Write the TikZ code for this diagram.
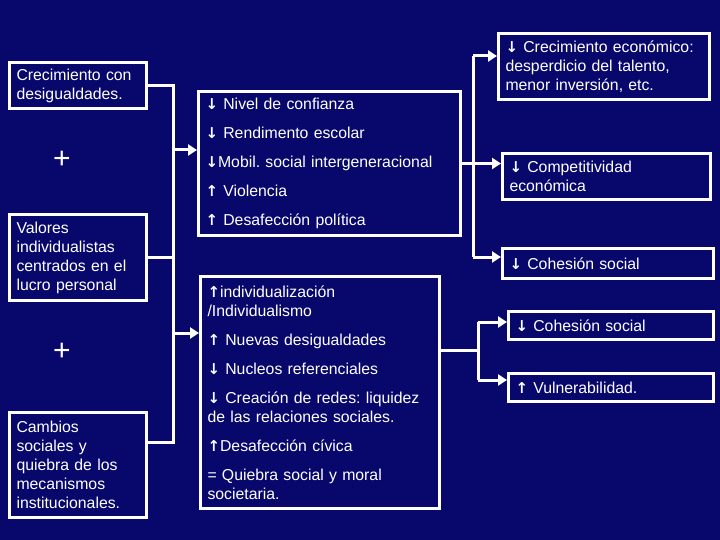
\documentclass[tikz,border=0pt]{standalone}
\usepackage{fontspec}
\setmainfont{Liberation Sans}
\newfontfamily\arrowfont{DejaVu Sans Bold}
\usepackage{tikz}
\usetikzlibrary{arrows.meta,calc}
\usepackage{xcolor}
\definecolor{navy}{RGB}{8,8,108}
\newcommand\dn{{\arrowfont\fontsize{15}{19}\selectfont ↓}}
\newcommand\up{{\arrowfont\fontsize{15}{19}\selectfont ↑}}
\frenchspacing

\begin{document}
\begin{tikzpicture}[x=1pt,y=-1pt,
  box/.style={draw=white,line width=3pt,anchor=north west,inner xsep=7pt,inner ysep=0pt,
    align=left,text=white,font=\fontsize{15.8}{19}\selectfont},
  link/.style={draw=white,line width=3pt},
  arr/.style={link,-{Triangle[length=9pt,width=11pt]}}]
  \fill[navy] (0,0) rectangle (720,540);
  \useasboundingbox (0,0) rectangle (720,540);
  % left causes
  \node[box,minimum width=137pt,minimum height=46pt,text width=123pt] (crec) at (8,61)
    {Crecimiento con\\desigualdades.};
  \node[box,minimum width=137pt,minimum height=86pt,text width=123pt] (valo) at (8,213)
    {Valores\\individualistas\\centrados en el\\lucro personal};
  \node[box,minimum width=137pt,minimum height=105pt,text width=123pt] (camb) at (8,411)
    {Cambios\\sociales y\\quiebra de los\\mecanismos\\institucionales.};
  \foreach \y in {160,352}{\node[text=white,font=\fontsize{30}{30}\selectfont] at (62,\y) {+};}
  % middle effects
  \node[box,minimum width=262pt,minimum height=144pt,text width=248pt] (conf) at (197,90)
    {\dn\ Nivel de confianza\\[10pt]\dn\ Rendimento escolar\\[10pt]\dn Mobil. social intergeneracional\\[10pt]\up\ Violencia\\[10pt]\up\ Desafección política};
  \node[box,minimum width=239pt,minimum height=232pt,text width=225pt] (indi) at (199,275)
    {\up individualización\\/Individualismo\\[10pt]\up\ Nuevas desigualdades\\[10pt]\dn\ Nucleos referenciales\\[10pt]\dn\ Creación de redes: liquidez\\de las relaciones sociales.\\[10pt]\up Desafección cívica\\[10pt]= Quiebra social y moral\\societaria.};
  % right consequences
  \node[box,minimum width=211pt,minimum height=66pt,text width=197pt] (econ) at (497,32)
    {\dn\ Crecimiento económico:\\desperdicio del talento,\\menor inversión, etc.};
  \node[box,minimum width=208pt,minimum height=46pt,text width=194pt] (comp) at (501,152)
    {\dn\ Competitividad\\económica};
  \node[box,minimum width=211pt,minimum height=30pt,text width=197pt] (cohe) at (501,247)
    {\dn\ Cohesión social};
  \node[box,minimum width=205pt,minimum height=28pt,text width=191pt] (cohs) at (507,310)
    {\dn\ Cohesión social};
  \node[box,minimum width=205pt,minimum height=28pt,text width=191pt] (vuln) at (507,372)
    {\up\ Vulnerabilidad.};
  % connectors
  \coordinate (ja) at (173,150);
  \coordinate (jb) at (173,333);
  \draw[link] (crec.east) -| (ja);
  \draw[link] (ja) |- (valo.east);
  \draw[link] (valo.east) -| (jb) |- ($(camb.north east)+(0,31)$);
  \draw[arr] (ja) -- (ja -| conf.west);
  \draw[arr] (jb) -- (jb -| indi.west);
  \coordinate (ka) at (473,56);
  \coordinate (kb) at (473,257);
  \draw[link] (ka) -- (kb);
  \draw[arr] (conf.east) -- (conf.east -| comp.west);
  \draw[arr] (ka) -- (ka -| econ.west);
  \draw[arr] (kb) -- (kb -| cohe.west);
  \coordinate (ma) at (478,322);
  \coordinate (mb) at (478,380);
  \draw[link] (indi.east |- 0,350) -- (478,350);
  \draw[link] (ma) -- (mb);
  \draw[arr] (ma) -- (ma -| cohs.west);
  \draw[arr] (mb) -- (mb -| vuln.west);
\end{tikzpicture}
\end{document}
